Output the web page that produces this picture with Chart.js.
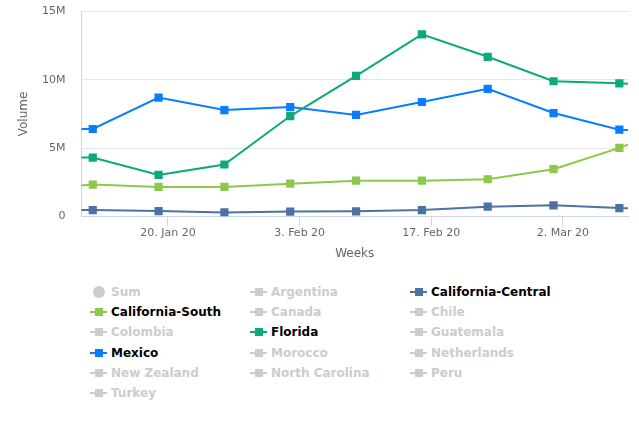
<!DOCTYPE html>
<html>
<head>
<meta charset="utf-8">
<script src="https://cdn.jsdelivr.net/npm/chart.js@4"></script>
<style>
body{margin:0;background:#fff;font-family:"DejaVu Sans",sans-serif;}
#wrap{position:relative;width:639px;height:270px;}
#chart{position:absolute;left:0;top:-11px;}
#legend{position:absolute;left:90px;top:283px;width:480px;}
.item{position:absolute;height:18px;line-height:18px;font-size:12px;font-weight:bold;white-space:nowrap;}
.sym{position:absolute;left:0;top:8px;width:17px;height:2px;}
.sym i{position:absolute;left:4.5px;top:-3px;width:8px;height:8px;}
.dot{position:absolute;left:3px;top:3px;width:12px;height:12px;border-radius:50%;}
.txt{position:absolute;left:21px;top:0;}
</style>
</head>
<body>
<div id="wrap"><canvas id="chart" width="639" height="276"></canvas></div>
<div id="legend"></div>
<script>
// weeks (sundays), first and last are just outside the visible range
const weeks=['2020-01-05','2020-01-12','2020-01-19','2020-01-26','2020-02-02','2020-02-09','2020-02-16','2020-02-23','2020-03-01','2020-03-08','2020-03-15'];
const tickDates=['2020-01-20','2020-02-03','2020-02-17','2020-03-02'];
const tickLabels=['20. Jan 20','3. Feb 20','17. Feb 20','2. Mar 20'];

const californiaCentral=[0.48,0.46,0.39,0.29,0.35,0.37,0.46,0.71,0.81,0.61,0.55];
const californiaSouth=[2.0,2.33,2.16,2.16,2.40,2.62,2.62,2.72,3.46,5.02,6.8];
const florida=[4.3,4.31,3.04,3.80,7.35,10.29,13.33,11.69,9.90,9.75,9.5];
const mexico=[6.4,6.40,8.70,7.79,8.01,7.43,8.38,9.34,7.57,6.35,6.2];

const legendNames=['Sum','Argentina','California-Central','California-South','Canada','Chile','Colombia','Florida','Guatemala','Mexico','Morocco','Netherlands','New Zealand','North Carolina','Peru','Turkey'];
const legendColors={'California-Central':'#4a72a3','California-South':'#8cc84b','Florida':'#0ca97a','Mexico':'#0a7dfc'};

const day0=Date.UTC(2020,0,1);
const toDay=s=>(Date.parse(s+'T00:00:00Z')-day0)/86400000;
const xs=weeks.map(toDay);
const tickXs=tickDates.map(toDay);

function series(name,vals)
{
return {
label:name,
data:vals.map((v,i)=>({x:xs[i],y:v*1e6})),
borderColor:legendColors[name],
backgroundColor:legendColors[name],
borderWidth:2,
pointStyle:'rect',
pointRadius:5.8,
pointBorderWidth:0,
pointHoverRadius:5.8,
tension:0
};
}

new Chart(document.getElementById('chart'),
{
type:'line',
data:{
datasets:[
series('California-Central',californiaCentral),
series('California-South',californiaSouth),
series('Florida',florida),
series('Mexico',mexico)
]
},
options:{
responsive:false,
animation:false,
layout:{padding:{left:8.5,right:11,top:4,bottom:0}},
plugins:{legend:{display:false},tooltip:{enabled:false}},
scales:{
x:{
type:'linear',
min:9.79,
max:67.92,
afterBuildTicks:ax=>{ax.ticks=tickXs.map(v=>({value:v}));},
ticks:{
callback:(v)=>tickLabels[tickXs.indexOf(v)],
color:'#666',
font:{family:'DejaVu Sans',size:11},
maxRotation:0,
autoSkip:false,
padding:0
},
grid:{drawOnChartArea:false,color:'#ccd6eb',tickLength:10,tickColor:'#ccd6eb'},
border:{color:'#ccd6eb'},
title:{display:true,text:'Weeks',color:'#666',font:{family:'DejaVu Sans',size:12},padding:{top:7}}
},
y:{
min:0,
max:15e6,
ticks:{
stepSize:5e6,
callback:v=>v===0?'0':(v/1e6)+'M',
color:'#666',
font:{family:'DejaVu Sans',size:11},
padding:16
},
grid:{color:'#e6e6e6',drawTicks:false},
border:{color:'#ccd6eb'},
title:{display:true,text:'Volume',color:'#666',font:{family:'DejaVu Sans',size:12},padding:{top:8,bottom:-5}}
}
}
}
});

// highcharts-like legend, 3 columns, hidden series in grey
const legend=document.getElementById('legend');
legendNames.forEach((name,i)=>
{
const col=i%3,row=Math.floor(i/3);
const el=document.createElement('div');
el.className='item';
el.style.left=(col*160)+'px';
el.style.top=(row*20.2)+'px';
const c=legendColors[name];
if(name==='Sum')
{
el.innerHTML='<span class="dot" style="background:#ccc"></span>';
}else{
const col2=c||'#ccc';
el.innerHTML='<span class="sym" style="background:'+col2+'"><i style="background:'+col2+'"></i></span>';
}
const t=document.createElement('span');
t.className='txt';
t.textContent=name;
t.style.color=c?'#000':'#ccc';
el.appendChild(t);
legend.appendChild(el);
});
</script>
</body>
</html>
